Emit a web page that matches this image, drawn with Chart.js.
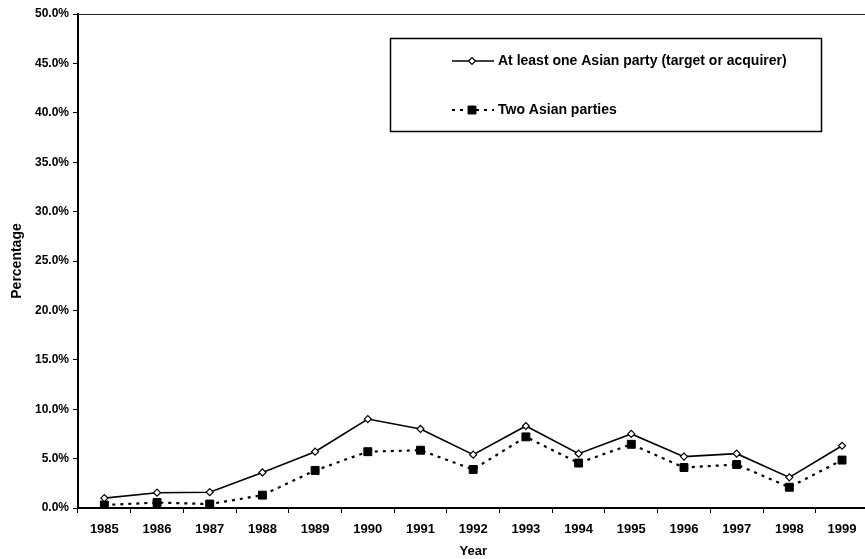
<!DOCTYPE html>
<html>
<head>
<meta charset="utf-8">
<script src="https://cdn.jsdelivr.net/npm/chart.js@4/dist/chart.umd.min.js"></script>
<style>
html,body{margin:0;padding:0;background:#fff;overflow:hidden;}
#wrap{width:865px;height:559px;overflow:hidden;position:relative;}
canvas{display:block;}
</style>
</head>
<body>
<div id="wrap"><canvas id="c" width="875" height="559"></canvas></div>
<script>
const years = ['1985','1986','1987','1988','1989','1990','1991','1992','1993','1994','1995','1996','1997','1998','1999'];
const atLeastOneAsian = [1.0, 1.55, 1.6, 3.6, 5.7, 9.0, 8.0, 5.4, 8.3, 5.5, 7.5, 5.2, 5.5, 3.1, 6.3];
const twoAsian = [0.3, 0.55, 0.4, 1.3, 3.8, 5.7, 5.85, 3.9, 7.2, 4.55, 6.45, 4.1, 4.4, 2.1, 4.85];
const seriesNames = ['At least one Asian party (target or acquirer)', 'Two Asian parties'];
const yTitle = 'Percentage';
const xTitle = 'Year';

const FONT = '"Liberation Sans", Arial, Helvetica, sans-serif';

const framePlugin = {
  id: 'frame',
  afterDraw(chart) {
    const ctx = chart.ctx;
    const a = chart.chartArea;
    ctx.save();
    // top border
    ctx.strokeStyle = '#222';
    ctx.lineWidth = 1.2;
    ctx.beginPath();
    ctx.moveTo(a.left, a.top + 0.5);
    ctx.lineTo(a.right, a.top + 0.5);
    ctx.stroke();
    // legend box
    const bx = 390, by = 38, bw = 431, bh = 93;
    ctx.fillStyle = '#fff';
    ctx.fillRect(bx, by, bw, bh);
    ctx.strokeStyle = '#000';
    ctx.lineWidth = 1.5;
    ctx.strokeRect(bx + 0.5, by + 0.5, bw, bh);
    const rows = [61, 110];
    chart.data.datasets.forEach((ds, i) => {
      const y = rows[i];
      ctx.save();
      ctx.strokeStyle = ds.borderColor;
      ctx.lineWidth = ds.borderWidth;
      ctx.setLineDash(ds.borderDash || []);
      ctx.beginPath();
      ctx.moveTo(452, y);
      ctx.lineTo(494, y);
      ctx.stroke();
      ctx.setLineDash([]);
      ctx.fillStyle = ds.pointBackgroundColor;
      ctx.strokeStyle = ds.pointBorderColor;
      ctx.lineWidth = ds.pointBorderWidth;
      Chart.helpers.drawPoint(ctx, {pointStyle: ds.pointStyle, radius: ds.pointRadius, borderWidth: ds.pointBorderWidth, rotation: 0}, 472, y);
      ctx.restore();
      ctx.fillStyle = '#000';
      ctx.font = 'bold 14px ' + FONT;
      ctx.textBaseline = 'middle';
      ctx.textAlign = 'left';
      ctx.fillText(ds.label, 498, y);
    });
    ctx.restore();
  }
};

new Chart(document.getElementById('c'), {
  type: 'line',
  data: {
    labels: years,
    datasets: [
      {
        label: seriesNames[0],
        data: atLeastOneAsian,
        borderColor: '#000',
        borderWidth: 1.6,
        pointStyle: 'rectRot',
        pointRadius: 3.5,
        pointBackgroundColor: '#fff',
        pointBorderColor: '#000',
        pointBorderWidth: 1.2,
        tension: 0,
        fill: false
      },
      {
        label: seriesNames[1],
        data: twoAsian,
        borderColor: '#000',
        borderWidth: 2.2,
        borderDash: [3, 5],
        pointStyle: 'rect',
        pointRadius: 5.6,
        pointBackgroundColor: '#000',
        pointBorderColor: '#000',
        pointBorderWidth: 1,
        tension: 0,
        fill: false
      }
    ]
  },
  options: {
    responsive: false,
    animation: false,
    devicePixelRatio: 1,
    layout: { padding: { top: 14, right: 1, left: 0, bottom: 0 } },
    plugins: { legend: { display: false }, tooltip: { enabled: false } },
    scales: {
      x: {
        offset: true,
        grid: { offset: true, drawOnChartArea: false, drawTicks: true, tickLength: 5, color: '#000', lineWidth: 1 },
        border: { color: '#000', width: 2 },
        ticks: { color: '#000', font: { family: FONT, size: 13, weight: 'bold' }, padding: 9, maxRotation: 0, autoSkip: false },
        title: { display: true, text: xTitle, color: '#000', font: { family: FONT, size: 13, weight: 'bold' }, padding: { top: 0, bottom: 0 } },
        afterFit(scale) { scale.height = 51; }
      },
      y: {
        min: 0,
        max: 50,
        ticks: { stepSize: 5, color: '#000', font: { family: FONT, size: 12, weight: 'bold' }, padding: 4,
          callback: v => v.toFixed(1) + '%' },
        grid: { drawOnChartArea: false, drawTicks: true, tickLength: 5, color: '#000', lineWidth: 1 },
        border: { color: '#000', width: 2 },
        title: { display: true, text: yTitle, color: '#000', font: { family: FONT, size: 14, weight: 'bold' }, padding: { top: 9, bottom: 0 } },
        afterFit(scale) { scale.width = 78; }
      }
    }
  },
  plugins: [framePlugin]
});
</script>
</body>
</html>
